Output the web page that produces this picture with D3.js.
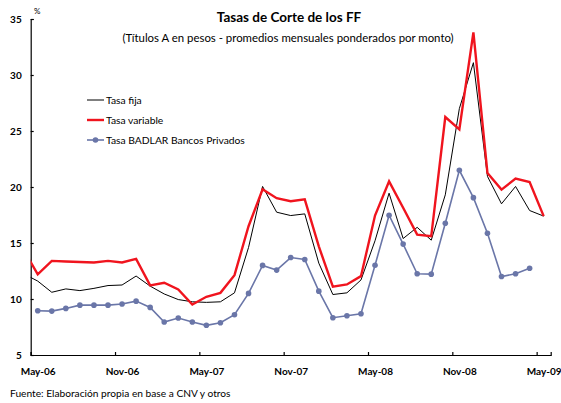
<!DOCTYPE html>
<html>
<head>
<meta charset="utf-8">
<script src="https://cdn.jsdelivr.net/npm/d3@7"></script>
<style>
  body { margin: 0; background: #fff; }
  svg { font-family: Lato, "Open Sans", sans-serif; }
</style>
</head>
<body>
<script>
// DATA (monthly, Apr-06 .. May-09; Apr-06 only shows as the line entering at the axis)
const MONTHS = ['Apr-06', 'May-06', 'Jun-06', 'Jul-06', 'Aug-06', 'Sep-06', 'Oct-06', 'Nov-06', 'Dec-06',
  'Jan-07', 'Feb-07', 'Mar-07', 'Apr-07', 'May-07', 'Jun-07', 'Jul-07', 'Aug-07', 'Sep-07', 'Oct-07', 'Nov-07', 'Dec-07',
  'Jan-08', 'Feb-08', 'Mar-08', 'Apr-08', 'May-08', 'Jun-08', 'Jul-08', 'Aug-08', 'Sep-08', 'Oct-08', 'Nov-08', 'Dec-08',
  'Jan-09', 'Feb-09', 'Mar-09', 'Apr-09', 'May-09'];
const TASA_FIJA = [12.25, 11.6, 10.6, 10.9, 10.75, 10.95, 11.2, 11.25, 12.05,
  11.15, 10.45, 9.95, 9.75, 9.7, 9.75, 10.55, 14.6, 20.05, 17.75, 17.45, 17.6,
  13.2, 10.4, 10.55, 11.7, 15.2, 19.45, 15.4, 16.4, 15.25, 19.3, 27.0, 31.1,
  20.95, 18.5, 20.05, 17.9, 17.4];
const TASA_VARIABLE = [14.4, 12.2, 13.4, 13.35, 13.3, 13.26, 13.4, 13.26, 13.58,
  11.22, 11.45, 10.86, 9.5, 10.2, 10.55, 12.13, 16.5, 19.8, 19.0, 18.73, 18.9,
  14.7, 11.1, 11.3, 12.04, 17.45, 20.5, 18.15, 15.75, 15.6, 26.25, 25.15, 33.8,
  21.25, 19.77, 20.75, 20.45, 17.4];
const BADLAR = [null, 8.95, 8.92, 9.16, 9.45, 9.45, 9.45, 9.55, 9.81,
  9.25, 7.94, 8.3, 7.94, 7.65, 7.88, 8.6, 10.5, 13.0, 12.58, 13.7, 13.53,
  10.7, 8.33, 8.5, 8.68, 13.02, 17.48, 14.9, 12.25, 12.22, 16.76, 21.49, 19.05,
  15.87, 12.01, 12.25, 12.75, null];
const Y_TICKS = [5, 10, 15, 20, 25, 30, 35];
const SERIES_NAMES = ['Tasa fija', 'Tasa variable', 'Tasa BADLAR Bancos Privados'];

// CONSTANTS
const WIDTH = 561;
const HEIGHT = 403;
const LEFT = 30.7;
const RIGHT = 550.7;
const TOP = 19;
const BOTTOM = 355;
const RED = '#f0141e';
const BLUE = '#6a76a8';

const X_SCALE = d3.scaleLinear()
  .domain([0.5, MONTHS.length - 0.5])
  .range([LEFT, RIGHT]);
const Y_SCALE = d3.scaleLinear()
  .domain([5, 35])
  .range([BOTTOM, TOP]);

const svg = d3.select('body')
  .append('svg')
  .attr('width', WIDTH)
  .attr('height', HEIGHT);

svg.append('defs').append('clipPath')
  .attr('id', 'plot-clip')
  .append('rect')
  .attr('x', LEFT)
  .attr('y', 0)
  .attr('width', WIDTH - LEFT)
  .attr('height', HEIGHT);

// TITLES
svg.append('text')
  .attr('x', 289)
  .attr('y', 22)
  .attr('text-anchor', 'middle')
  .style('font-size', '13.5px')
  .style('font-weight', 'bold')
  .text('Tasas de Corte de los FF');
svg.append('text')
  .attr('x', 288)
  .attr('y', 42)
  .attr('text-anchor', 'middle')
  .style('font-size', '11.4px')
  .text('(Títulos A en pesos - promedios mensuales ponderados por monto)');
svg.append('text')
  .attr('x', 34)
  .attr('y', 14)
  .style('font-size', '8px')
  .text('%');
svg.append('text')
  .attr('x', 10)
  .attr('y', 397)
  .style('font-size', '10.2px')
  .text('Fuente: Elaboración propia en base a CNV y otros');

// AXES
const monthIdx = MONTHS.map((m, i) => i).filter(i => /^(May|Nov)/.test(MONTHS[i]));

const Y_AXIS = d3.axisLeft(Y_SCALE).tickValues(Y_TICKS).tickSize(-3).tickPadding(9);
svg.append('g')
  .attr('class', 'y-axis')
  .attr('transform', 'translate(' + LEFT + ',0)')
  .call(Y_AXIS);

const X_AXIS = d3.axisBottom(X_SCALE).tickValues(monthIdx.map(i => i - 0.5)).tickSize(-3).tickFormat('');
svg.append('g')
  .attr('class', 'x-axis')
  .attr('transform', 'translate(0,' + BOTTOM + ')')
  .call(X_AXIS);

const X_LABELS = d3.axisBottom(X_SCALE).tickValues(monthIdx).tickSize(0).tickPadding(13)
  .tickFormat(i => MONTHS[i]);
svg.append('g')
  .attr('class', 'x-labels')
  .attr('transform', 'translate(0,' + BOTTOM + ')')
  .call(X_LABELS)
  .call(g => g.select('.domain').remove());

svg.selectAll('.y-axis text, .x-labels text')
  .style('font-family', 'Lato, sans-serif')
  .style('font-size', '10px')
  .style('font-weight', 'bold')
  .attr('fill', '#000');
svg.selectAll('.y-axis path, .y-axis line, .x-axis path, .x-axis line')
  .attr('stroke', '#000')
  .attr('stroke-width', 1.2);

// LINES
const line = d3.line()
  .defined(d => d != null)
  .x((d, i) => X_SCALE(i))
  .y(d => Y_SCALE(d));

const plot = svg.append('g').attr('clip-path', 'url(#plot-clip)');

plot.append('path')
  .datum(BADLAR)
  .attr('fill', 'none')
  .attr('stroke', BLUE)
  .attr('stroke-width', 1.6)
  .attr('d', line);
plot.selectAll('circle.badlar')
  .data(BADLAR.map((v, i) => ({ v, i })).filter(d => d.v != null))
  .enter()
  .append('circle')
  .attr('class', 'badlar')
  .attr('cx', d => X_SCALE(d.i))
  .attr('cy', d => Y_SCALE(d.v))
  .attr('r', 2.8)
  .attr('fill', BLUE);

plot.append('path')
  .datum(TASA_FIJA)
  .attr('fill', 'none')
  .attr('stroke', '#000')
  .attr('stroke-width', 1)
  .attr('d', line);

plot.append('path')
  .datum(TASA_VARIABLE)
  .attr('fill', 'none')
  .attr('stroke', RED)
  .attr('stroke-width', 2.4)
  .attr('stroke-linejoin', 'miter')
  .attr('d', line);

// LEGEND
const legend = svg.append('g')
  .attr('class', 'legend')
  .attr('transform', 'translate(87,100)')
  .selectAll('g')
  .data(SERIES_NAMES)
  .enter().append('g')
  .attr('transform', (d, i) => 'translate(0,' + i * 20 + ')');

legend.append('line')
  .attr('x1', 0)
  .attr('x2', 17)
  .attr('stroke', (d, i) => [ '#000', RED, BLUE ][i])
  .attr('stroke-width', (d, i) => [1, 2.4, 1.6][i]);
legend.filter((d, i) => i === 2).append('circle')
  .attr('cx', 8.5)
  .attr('r', 2.8)
  .attr('fill', BLUE);
legend.append('text')
  .attr('x', 19)
  .attr('dy', '0.35em')
  .style('font-size', '10.3px')
  .text(d => d);
</script>
</body>
</html>
